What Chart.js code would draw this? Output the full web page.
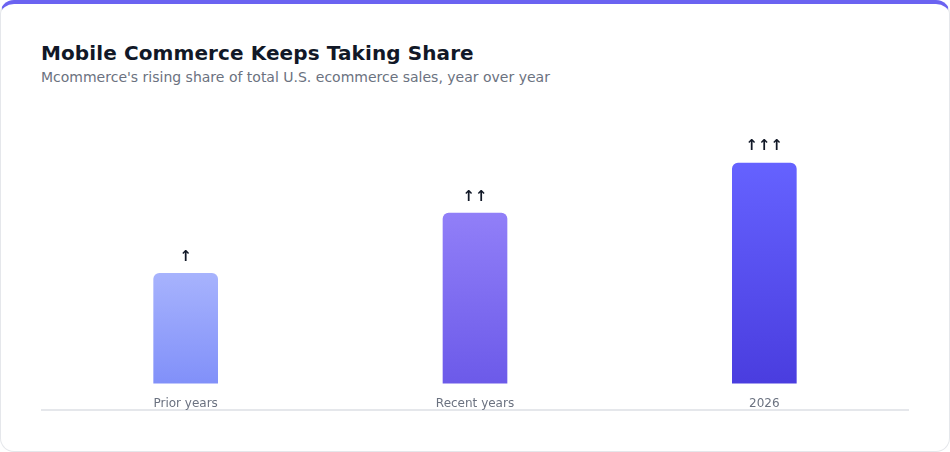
<!DOCTYPE html>
<html>
<head>
<meta charset="utf-8">
<script src="https://cdn.jsdelivr.net/npm/chart.js@4.4.1/dist/chart.umd.min.js"></script>
<style>
  html, body { margin: 0; padding: 0; background: #ffffff; }
  body { width: 950px; height: 452px; overflow: hidden; font-family: "DejaVu Sans", sans-serif; }
  .card {
    position: relative;
    width: 950px; height: 452px;
    box-sizing: border-box;
    border: 1px solid #e5e7eb;
    border-top: 4px solid #6b63f1;
    border-radius: 14px;
    background: #ffffff;
    overflow: hidden;
  }
  h1 {
    position: absolute; left: 40px; top: 37px; margin: 0;
    font-size: 20px; font-weight: bold; color: #111827; letter-spacing: 0.1px;
  }
  .sub {
    position: absolute; left: 40px; top: 65px; margin: 0;
    font-size: 14px; color: #6b7280;
  }
  .chartbox {
    position: absolute; left: 40px; top: 100px;
    width: 868px; height: 320px;
  }
  .axisline {
    position: absolute; left: 40px; top: 405px;
    width: 868px; height: 2px; background: #e5e7eb;
  }
</style>
</head>
<body>
<div class="card">
  <h1>Mobile Commerce Keeps Taking Share</h1>
  <p class="sub">Mcommerce's rising share of total U.S. ecommerce sales, year over year</p>
  <div class="axisline"></div>
  <div class="chartbox"><canvas id="c"></canvas></div>
</div>
<script>
const categories = ["Prior years", "Recent years", "2026"];
const shareValues = [44, 68, 88];
const arrowLabels = ["↑", "↑↑", "↑↑↑"];
const gradientStops = [
  ["#a7b3fd", "#8190f9"],
  ["#917ff8", "#6c5ae9"],
  ["#6562ff", "#4a3ddf"]
];

const arrowPlugin = {
  id: "arrowLabels",
  afterDatasetsDraw(chart) {
    const ctx = chart.ctx;
    const meta = chart.getDatasetMeta(0);
    ctx.save();
    ctx.font = "bold 15px 'DejaVu Sans'";
    ctx.fillStyle = "#111827";
    ctx.textAlign = "center";
    ctx.textBaseline = "bottom";
    meta.data.forEach((bar, i) => {
      ctx.fillText(arrowLabels[i], bar.x, bar.y - 9);
    });
    ctx.restore();
  }
};

function barGradient(context) {
  const chart = context.chart;
  const area = chart.chartArea;
  const i = context.dataIndex;
  if (!area || !chart.scales.y) return gradientStops[i][0];
  const top = chart.scales.y.getPixelForValue(shareValues[i]);
  const bottom = chart.scales.y.getPixelForValue(0);
  const g = chart.ctx.createLinearGradient(0, top, 0, bottom);
  g.addColorStop(0, gradientStops[i][0]);
  g.addColorStop(1, gradientStops[i][1]);
  return g;
}

new Chart(document.getElementById("c"), {
  type: "bar",
  data: {
    labels: categories,
    datasets: [{
      data: shareValues,
      backgroundColor: barGradient,
      borderRadius: { topLeft: 6, topRight: 6, bottomLeft: 0, bottomRight: 0 },
      borderSkipped: "bottom",
      barThickness: 64
    }]
  },
  options: {
    responsive: true,
    maintainAspectRatio: false,
    animation: false,
    layout: { padding: { top: 29, bottom: 0, left: 0, right: 0 } },
    plugins: { legend: { display: false }, tooltip: { enabled: false } },
    scales: {
      x: {
        grid: { display: false, drawTicks: false },
        border: { display: false },
        ticks: { color: "#6b7280", font: { family: "DejaVu Sans", size: 12 }, padding: 13 }
      },
      y: {
        display: false,
        min: 0,
        max: 100
      }
    }
  },
  plugins: [arrowPlugin]
});
</script>
</body>
</html>
